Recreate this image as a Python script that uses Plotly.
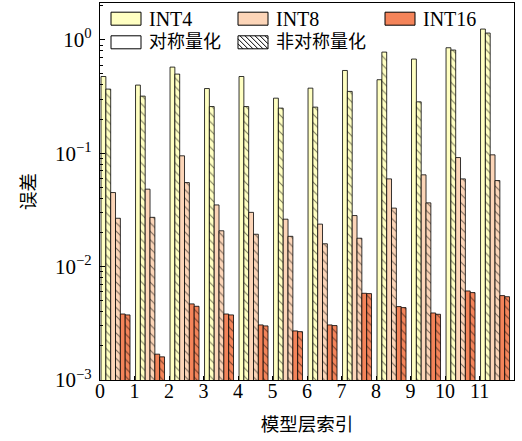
import plotly.graph_objects as go

# ---------------- data ----------------
layers = list(range(12))
int4_sym = [0.475, 0.399, 0.575, 0.372, 0.475, 0.306, 0.375, 0.537, 0.445, 0.677, 0.852, 1.245]
int4_asym = [0.368, 0.319, 0.499, 0.258, 0.258, 0.250, 0.255, 0.351, 0.780, 0.284, 0.813, 1.148]
int8_sym = [0.0450, 0.0482, 0.0949, 0.0350, 0.0301, 0.0262, 0.0237, 0.0282, 0.0594, 0.0645, 0.0916, 0.0968]
int8_asym = [0.0267, 0.0272, 0.0551, 0.0207, 0.0193, 0.0185, 0.0159, 0.0178, 0.0328, 0.0365, 0.0594, 0.0574]
int16_sym = [0.00382, 0.00169, 0.00469, 0.00382, 0.00306, 0.00271, 0.00306, 0.00582, 0.00444, 0.00390, 0.00610, 0.00555]
int16_asym = [0.00375, 0.00160, 0.00447, 0.00375, 0.00300, 0.00267, 0.00302, 0.00578, 0.00435, 0.00380, 0.00590, 0.00543]

y_tickvals = [1e-3, 1e-2, 1e-1, 1]
y_ticktext = ["10<sup>−3</sup>", "10<sup>−2</sup>", "10<sup>−1</sup>", "10<sup>0</sup>"]
x_ticktext = [str(i) for i in layers]

bit_names = ["INT4", "INT8", "INT16"]
mode_names = ["对称量化", "非对称量化"]
x_title = "模型层索引"
y_title = "误差"

# ---------------- style ----------------
colors = {"INT4": "#ffffc2", "INT8": "#fcd5b8", "INT16": "#f4845a"}
FONT = "Liberation Serif, Noto Sans CJK SC, serif"
W, H = 522, 441
ML, MR, MT, MB = 100, 8, 3, 61
PW, PH = W - ML - MR, H - MT - MB
BW = 0.14
START = 0.03

series = [
    ("INT4", False, int4_sym), ("INT4", True, int4_asym),
    ("INT8", False, int8_sym), ("INT8", True, int8_asym),
    ("INT16", False, int16_sym), ("INT16", True, int16_asym),
]

fig = go.Figure()
for j, (bit, hatched, vals) in enumerate(series):
    marker = dict(color=colors[bit], line=dict(color="black", width=0.8))
    if hatched:
        marker["pattern"] = dict(shape="\\", size=6, solidity=0.18,
                                 fgcolor="black", bgcolor=colors[bit])
    fig.add_trace(go.Bar(
        x=layers, y=vals, width=BW, offset=START + j * BW,
        marker=marker, showlegend=False,
        name=f"{bit} {'非对称' if hatched else '对称'}",
    ))

# minor log ticks
minor_vals = [k * 10 ** e for e in range(-3, 1) for k in range(2, 10)]

fig.update_layout(
    width=W, height=H,
    margin=dict(l=ML, r=MR, t=MT, b=MB),
    paper_bgcolor="white", plot_bgcolor="white",
    barmode="overlay",
    font=dict(family=FONT, size=19, color="black"),
)
fig.update_xaxes(
    range=[0, 12], tickvals=layers, ticktext=x_ticktext,
    ticks="inside", ticklen=4, tickwidth=1, tickcolor="black",
    tickfont=dict(size=20), ticklabelstandoff=-7,
    showline=True, linecolor="black", linewidth=1.2, mirror=True,
    showgrid=False, zeroline=False,
    title=dict(text=x_title, font=dict(size=18.5), standoff=16),
)
fig.update_yaxes(
    type="log", range=[-3, 0.325],
    tickvals=y_tickvals, ticktext=y_ticktext,
    ticks="inside", ticklen=5, tickwidth=1, tickcolor="black",
    tickfont=dict(size=21), ticklabelstandoff=3,
    minor=dict(tickvals=minor_vals, ticks="inside", ticklen=2.5, tickcolor="black", showgrid=False),
    showline=True, linecolor="black", linewidth=1.2, mirror=True,
    showgrid=False, zeroline=False,
    title=dict(text=y_title, font=dict(size=18.5), standoff=14),
)

# ---------------- manual legend ----------------
def to_paper(px, py):
    return (px - ML) / PW, (MT + PH - py) / PH

shapes = []
annotations = []
box_w, box_h = 30, 13
entries = [
    (111, 18.7, colors["INT4"], False, bit_names[0], 20),
    (238, 18.7, colors["INT8"], False, bit_names[1], 20),
    (385, 18.7, colors["INT16"], False, bit_names[2], 20),
    (111, 42.3, "white", False, mode_names[0], 18),
    (238, 42.3, "white", True, mode_names[1], 18),
]
for bx, cy, fc, hatched, label, fsize in entries:
    y0 = cy - box_h / 2
    y1 = cy + box_h / 2
    x0p, y0p = to_paper(bx, y1)
    x1p, y1p = to_paper(bx + box_w, y0)
    shapes.append(dict(type="rect", xref="paper", yref="paper",
                       x0=x0p, y0=y0p, x1=x1p, y1=y1p,
                       fillcolor=fc, line=dict(color="black", width=1)))
    if hatched:
        s = 5
        c = bx - y1
        while c <= bx + box_w - y0:
            ys = max(y0, bx - c)
            ye = min(y1, bx + box_w - c)
            if ye > ys:
                ax, ay = to_paper(ys + c, ys)
                bx2, by2 = to_paper(ye + c, ye)
                shapes.append(dict(type="line", xref="paper", yref="paper",
                                   x0=ax, y0=ay, x1=bx2, y1=by2,
                                   line=dict(color="black", width=1)))
            c += s
    tx, ty = to_paper(bx + box_w + 6, cy)
    annotations.append(dict(x=tx, y=ty, xref="paper", yref="paper",
                            text=label, showarrow=False, xanchor="left", yanchor="middle",
                            font=dict(family=FONT, size=fsize, color="black")))

fig.update_layout(shapes=shapes, annotations=annotations)
fig.write_html("out.html", config={"displayModeBar": False},
               post_script="document.body.style.margin='0';document.body.style.overflow='hidden';")
